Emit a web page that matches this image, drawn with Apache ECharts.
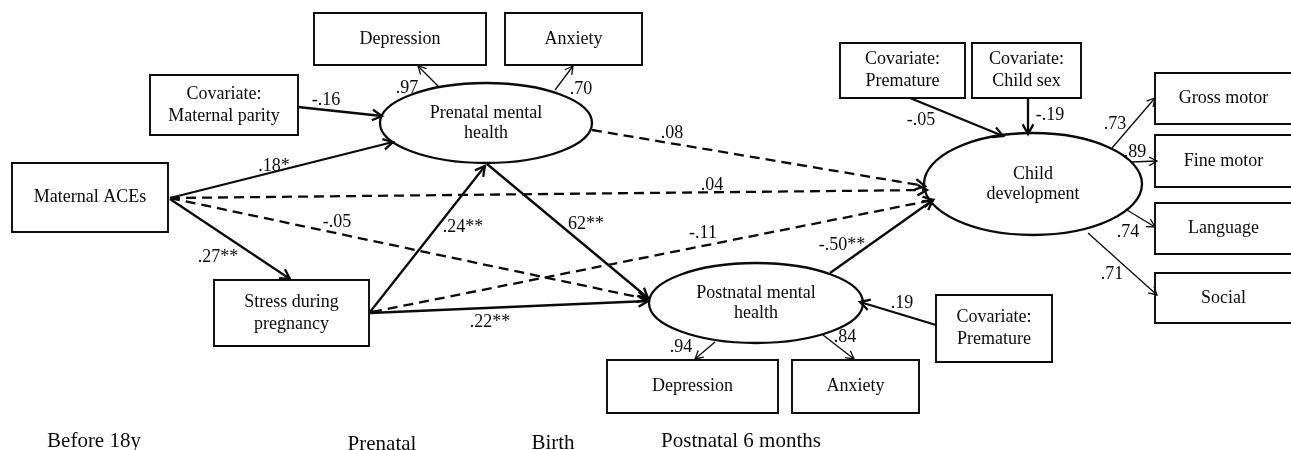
<!DOCTYPE html>
<html>
<head>
<meta charset="utf-8">
<script src="https://cdn.jsdelivr.net/npm/echarts@6/dist/echarts.min.js"></script>
<style>
html,body{margin:0;padding:0;background:#fff;}
#chart{width:1291px;height:450px;}
</style>
</head>
<body>
<div id="chart"></div>
<script>
// ---- Observed variables (rectangles) ----
const boxLabels = [
  'Depression', 'Anxiety', 'Covariate:\nMaternal parity', 'Maternal ACEs',
  'Stress during\npregnancy', 'Depression', 'Anxiety', 'Covariate:\nPremature',
  'Covariate:\nPremature', 'Covariate:\nChild sex',
  'Gross motor', 'Fine motor', 'Language', 'Social'
];
// diagram-space layout [left, top, right, bottom]
const boxLayout = [
  [314, 13, 486, 65], [505, 13, 642, 65], [150, 75, 298, 135], [12, 163, 168, 232],
  [214, 280, 369, 346], [607, 360, 778, 413], [792, 360, 919, 413], [936, 295, 1052, 362],
  [840, 43, 965, 98], [972, 43, 1081, 98],
  [1155, 73, 1292, 124], [1155, 135, 1292, 187], [1155, 203, 1292, 254], [1155, 273, 1292, 323]
];

// ---- Latent variables (ellipses) ----
const latentLabels = ['Prenatal mental\nhealth', 'Postnatal mental\nhealth', 'Child\ndevelopment'];
// [centre x, centre y, radius x, radius y]
const latentLayout = [[486, 123, 106, 40], [756, 303, 107, 40], [1033, 184, 109, 51]];

// ---- Paths ----
const pathCoefficients = [
  '-.16', '.18*', '.04', '-.05', '.27**', '.24**', '62**', '-.11', '.22**', '.08', '-.50**',
  '.19', '-.05', '-.19',
  '.97', '.70', '.94', '.84', '.73', '.89', '.74', '.71'
];
// structural = significant / covariate path, nonsig = dashed, loading = measurement path
const pathKinds = [
  'structural', 'structural', 'nonsig', 'nonsig', 'structural', 'structural', 'structural',
  'nonsig', 'structural', 'nonsig', 'structural',
  'structural', 'structural', 'structural',
  'loading', 'loading', 'loading', 'loading', 'loading', 'loading', 'loading', 'loading'
];
// [from x, from y, to x, to y, label x, label y]
const pathLayout = [
  [298, 107, 382, 116, 326, 100],
  [170, 198, 393, 142, 274, 166],
  [170, 198, 927, 190, 712, 185],
  [170, 198, 647, 299, 337, 222],
  [170, 199, 290, 279, 218, 257],
  [370, 312, 485, 166, 463, 227],
  [487, 164, 648, 298, 586, 224],
  [372, 312, 933, 200, 703, 233],
  [370, 313, 648, 301, 490, 322],
  [592, 130, 925, 186, 672, 133],
  [830, 273, 933, 200, 842, 245],
  [936, 325, 860, 302, 902, 303],
  [910, 98, 1003, 136, 921, 120],
  [1028, 99, 1028, 134, 1050, 115],
  [438, 86, 418, 66, 407, 88],
  [555, 90, 573, 66, 581, 89],
  [715, 342, 695, 359, 681, 347],
  [823, 335, 854, 359, 845, 337],
  [1112, 148, 1155, 98, 1115, 124],
  [1131, 162, 1157, 161, 1135, 152],
  [1127, 210, 1155, 227, 1128, 232],
  [1088, 233, 1157, 295, 1112, 274]
];

// ---- Timeline labels ----
const timeLabels = ['Before 18y', 'Prenatal', 'Birth', 'Postnatal 6 months'];
const timeLayout = [[94, 441], [382, 444], [553, 443], [741, 441]];

const FONT = '"Liberation Serif", "Times New Roman", serif';
const INK = '#0a0a0a';

const chart = echarts.init(document.getElementById('chart'), null, {renderer: 'canvas'});

function renderBox(params, api) {
  const p1 = api.coord([api.value(0), api.value(1)]);
  const p2 = api.coord([api.value(2), api.value(3)]);
  return {
    type: 'group',
    children: [
      {type: 'rect', shape: {x: p1[0], y: p1[1], width: p2[0] - p1[0], height: p2[1] - p1[1]},
       style: {fill: '#fff', stroke: INK, lineWidth: 1.9}},
      {type: 'text', style: {text: boxLabels[params.dataIndex], x: (p1[0] + p2[0]) / 2, y: (p1[1] + p2[1]) / 2,
        align: 'center', verticalAlign: 'middle', font: '18px ' + FONT, lineHeight: 22, fill: INK}}
    ]
  };
}

function renderLatent(params, api) {
  const c = api.coord([api.value(0), api.value(1)]);
  const e = api.coord([api.value(0) + api.value(2), api.value(1) + api.value(3)]);
  return {
    type: 'group',
    children: [
      {type: 'ellipse', shape: {cx: c[0], cy: c[1], rx: Math.abs(e[0] - c[0]), ry: Math.abs(e[1] - c[1])},
       style: {fill: '#fff', stroke: INK, lineWidth: 2.3}},
      {type: 'text', style: {text: latentLabels[params.dataIndex], x: c[0], y: c[1],
        align: 'center', verticalAlign: 'middle', font: '18px ' + FONT, lineHeight: 20, fill: INK}}
    ]
  };
}

function renderPath(params, api) {
  const i = params.dataIndex;
  const a = api.coord([api.value(0), api.value(1)]);
  const b = api.coord([api.value(2), api.value(3)]);
  const l = api.coord([api.value(4), api.value(5)]);
  const kind = pathKinds[i];
  const lw = kind === 'loading' ? 1.3 : 2.3;
  const dash = kind === 'nonsig' ? [10, 6] : null;
  const dx = b[0] - a[0], dy = b[1] - a[1];
  const len = Math.hypot(dx, dy);
  const bx = -dx / len, by = -dy / len;
  const h = kind === 'loading' ? 9 : 11;
  const ang = 0.5, cs = Math.cos(ang), sn = Math.sin(ang);
  const r1 = [bx * cs - by * sn, bx * sn + by * cs];
  const r2 = [bx * cs + by * sn, -bx * sn + by * cs];
  return {
    type: 'group',
    children: [
      {type: 'line', shape: {x1: a[0], y1: a[1], x2: b[0], y2: b[1]},
       style: {stroke: INK, lineWidth: lw, lineDash: dash}},
      {type: 'polyline', shape: {points: [[b[0] + h * r1[0], b[1] + h * r1[1]], [b[0], b[1]], [b[0] + h * r2[0], b[1] + h * r2[1]]]},
       style: {stroke: INK, lineWidth: lw, fill: null}},
      {type: 'text', style: {text: pathCoefficients[i], x: l[0], y: l[1],
        align: 'center', verticalAlign: 'middle', font: '18px ' + FONT, fill: INK}}
    ]
  };
}

function renderTime(params, api) {
  const p = api.coord([api.value(0), api.value(1)]);
  return {type: 'text', style: {text: timeLabels[params.dataIndex], x: p[0], y: p[1],
    align: 'center', verticalAlign: 'middle', font: '21px ' + FONT, fill: INK}};
}

chart.setOption({
  animation: false,
  backgroundColor: '#fff',
  grid: {left: 0, right: 0, top: 0, bottom: 0},
  xAxis: {type: 'value', min: 0, max: 1291, show: false},
  yAxis: {type: 'value', min: 0, max: 450, inverse: true, show: false},
  series: [
    {type: 'custom', name: 'paths', renderItem: renderPath, data: pathLayout,
     encode: {x: [0, 2, 4], y: [1, 3, 5]}, z: 3, silent: true},
    {type: 'custom', name: 'observed', renderItem: renderBox, data: boxLayout,
     encode: {x: [0, 2], y: [1, 3]}, z: 2, silent: true},
    {type: 'custom', name: 'latent', renderItem: renderLatent, data: latentLayout,
     encode: {x: 0, y: 1}, z: 2, silent: true},
    {type: 'custom', name: 'time', renderItem: renderTime, data: timeLayout,
     encode: {x: 0, y: 1}, z: 2, silent: true}
  ]
});
</script>
</body>
</html>
